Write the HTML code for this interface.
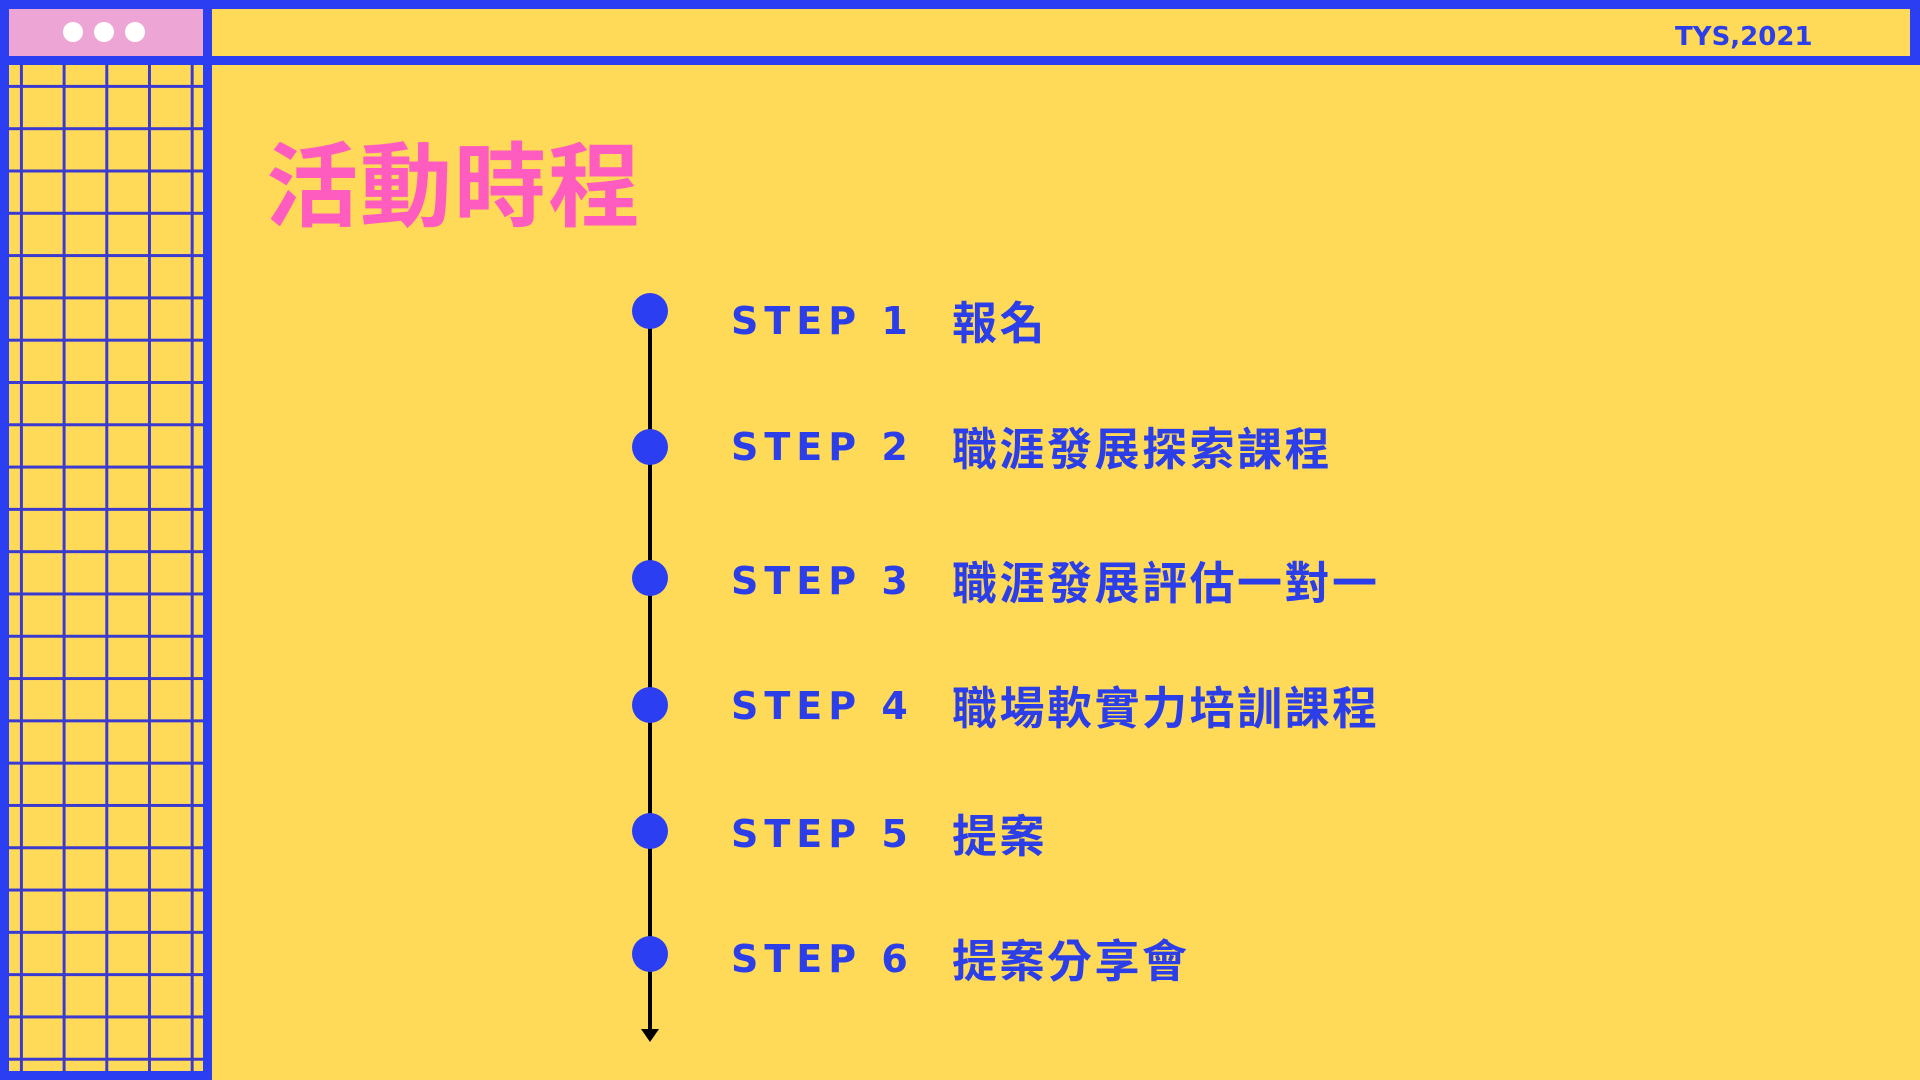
<!DOCTYPE html>
<html><head><meta charset="utf-8"><style>
html,body{margin:0;padding:0}
body{width:1920px;height:1080px;background:#FFDA58;position:relative;overflow:hidden;font-family:"Liberation Sans","Noto Sans CJK TC",sans-serif}
.b{position:absolute;background:#2B3EF2}
.grid{position:absolute;left:9px;top:65px;width:194px;height:1006px;
background-image:linear-gradient(to right,transparent 11px,#3a3ad0 11px,#3a3ad0 14px,transparent 14px),linear-gradient(to bottom,transparent 20px,#3a3ad0 20px,#3a3ad0 23px,transparent 23px);
background-size:42.7px 100%,100% 42.3px;}
.dot{position:absolute;border-radius:50%;background:#fff}
.step{position:absolute;left:731px;font-weight:bold;font-size:38px;color:#2B3EE8;letter-spacing:6px;line-height:1;font-family:"DejaVu Sans","Liberation Sans",sans-serif}
.zh{position:absolute;left:952px;font-weight:bold;font-size:45px;color:#2B3EE8;letter-spacing:2.5px;line-height:1;font-family:"Noto Sans CJK TC",sans-serif}
.c{position:absolute;left:632px;width:36px;height:36px;border-radius:50%;background:#2B3EF2}
</style></head><body>
<div class="grid"></div>
<div class="b" style="left:0;top:0;width:1920px;height:9px"></div>
<div class="b" style="left:0;top:0;width:9px;height:1080px"></div>
<div class="b" style="left:203px;top:0;width:9px;height:1080px"></div>
<div class="b" style="left:0;top:56px;width:1920px;height:9px"></div>
<div class="b" style="left:1910px;top:0;width:10px;height:65px"></div>
<div class="b" style="left:0;top:1071px;width:212px;height:9px"></div>
<div style="position:absolute;left:9px;top:9px;width:194px;height:47px;background:#EDA5D6"></div>
<div class="dot" style="left:63px;width:20px;height:20px;top:22px"></div>
<div class="dot" style="left:94px;width:20px;height:20px;top:22px"></div>
<div class="dot" style="left:125px;width:20px;height:20px;top:22px"></div>
<div style="position:absolute;left:1675px;top:24px;font-weight:bold;font-size:26px;color:#2B3EE8;letter-spacing:0;font-family:'DejaVu Sans',sans-serif;line-height:1">TYS,2021</div>
<div style="position:absolute;left:266px;top:134px;font-weight:bold;font-size:92px;color:#FF5CBF;letter-spacing:2px;line-height:1;font-family:'Noto Sans CJK TC',sans-serif">活動時程</div>
<div style="position:absolute;left:648px;top:311px;width:4px;height:720px;background:#000"></div>
<div style="position:absolute;left:641px;top:1029px;width:0;height:0;border-left:9px solid transparent;border-right:9px solid transparent;border-top:13px solid #000"></div>
<div class="c" style="top:293px"></div>
<div class="c" style="top:429px"></div>
<div class="c" style="top:560px"></div>
<div class="c" style="top:687px"></div>
<div class="c" style="top:813px"></div>
<div class="c" style="top:936px"></div>
<div class="step" style="top:302px">STEP 1</div><div class="zh" style="top:297px">報名</div>
<div class="step" style="top:428px">STEP 2</div><div class="zh" style="top:423px">職涯發展探索課程</div>
<div class="step" style="top:562px">STEP 3</div><div class="zh" style="top:557px">職涯發展評估一對一</div>
<div class="step" style="top:687px">STEP 4</div><div class="zh" style="top:682px">職場軟實力培訓課程</div>
<div class="step" style="top:815px">STEP 5</div><div class="zh" style="top:810px">提案</div>
<div class="step" style="top:940px">STEP 6</div><div class="zh" style="top:935px">提案分享會</div>
</body></html>
